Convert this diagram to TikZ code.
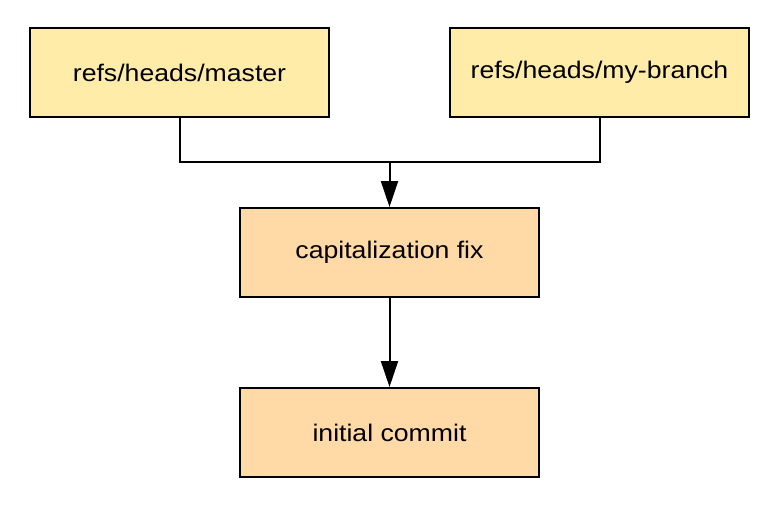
\documentclass[tikz,border=0pt]{standalone}
\usepackage{fontspec}
\setmainfont[FakeStretch=1.11]{Liberation Sans}
\usetikzlibrary{arrows.meta}
\definecolor{refcol}{HTML}{FFECA9}
\definecolor{comcol}{HTML}{FFD9A6}
\begin{document}
\begin{tikzpicture}[x=1pt,y=-1pt,
  box/.style={draw=black, line width=2pt, minimum width=299pt, minimum height=89pt, inner sep=0pt,
    font=\fontsize{24}{28}\selectfont},
  refbox/.style={box, fill=refcol},
  combox/.style={box, fill=comcol},
  conn/.style={draw=black, line width=2pt},
  arr/.style={conn, -{Triangle[length=26pt,width=17pt]}}]
\useasboundingbox (0,0) rectangle (780,514);
\node[refbox] (master) at (179.5,72.5) {refs/heads/master};
\node[refbox] (branch) at (599.5,72.5) {refs/heads/my-branch};
\node[combox] (fix) at (389.5,252.5) {capitalization fix};
\node[combox] (init) at (389.5,432.5) {initial commit};
\coordinate (j) at (389.5,162);
\draw[conn] (master.south) |- (j);
\draw[conn] (branch.south) |- (j);
\draw[arr] (j) -- (fix.north);
\draw[arr] (fix.south) -- (init.north);
\end{tikzpicture}
\end{document}
